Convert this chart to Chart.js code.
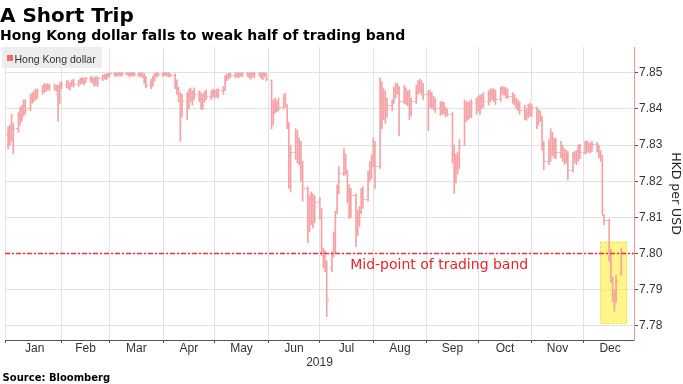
<!DOCTYPE html>
<html>
<head>
<meta charset="utf-8">
<script src="https://cdn.jsdelivr.net/npm/chart.js@4.4.1/dist/chart.umd.min.js"></script>
<style>
  html, body { margin: 0; padding: 0; background: #fff; }
  #wrap { position: relative; width: 683px; height: 384px; overflow: hidden; }
  #chart { position: absolute; left: 0; top: 0; }
  .title { position: absolute; left: 0; top: 4.6px; font: bold 20px/20px "DejaVu Sans"; color: #000; white-space: nowrap; }
  .subtitle { position: absolute; left: 0; top: 27.5px; font: bold 14px/14px "DejaVu Sans"; color: #000; white-space: nowrap; }
  .legend { position: absolute; left: 2px; top: 47px; width: 100px; height: 21px; background: rgba(236, 236, 236, 0.92); }
  .legend .sw { position: absolute; left: 4.7px; top: 8px; width: 6px; height: 6px; background: #f26d6d; }
  .legend .lbl { position: absolute; left: 12.5px; top: 6.8px; font: 10.5px/10.5px "Liberation Sans"; color: #333; white-space: nowrap; }
  .source { position: absolute; left: 2.6px; top: 373px; font: bold 10px/10px "DejaVu Sans"; color: #000; white-space: nowrap; }
</style>
</head>
<body>
<div id="wrap">
  <canvas id="chart" width="683" height="384" style="width:683px;height:384px"></canvas>
  <div class="title">A Short Trip</div>
  <div class="subtitle">Hong Kong dollar falls to weak half of trading band</div>
  <div class="legend"><span class="sw"></span><span class="lbl">Hong Kong dollar</span></div>
  <div class="source">Source: Bloomberg</div>
</div>
<script>
'use strict';

// trading days, as day of year 2019 (1 = Jan 1), one row per month
var days = [
  1,2,3,4,7,8,9,10,11,14,15,16,17,18,21,22,23,24,25,28,29,30,31,
  32,35,36,37,38,39,42,43,44,45,46,49,50,51,52,53,56,57,58,59,
  60,63,64,65,66,67,70,71,72,73,74,77,78,79,80,81,84,85,86,87,88,
  91,92,93,94,95,98,99,100,101,102,105,106,107,108,109,112,113,114,115,116,119,120,
  121,122,123,126,127,128,129,130,133,134,135,136,137,140,141,142,143,144,147,148,149,150,151,
  154,155,156,157,158,161,162,163,164,165,168,169,170,171,172,175,176,177,178,179,
  182,183,184,185,186,189,190,191,192,193,196,197,198,199,200,203,204,205,206,207,210,211,212,
  213,214,217,218,219,220,221,224,225,226,227,228,231,232,233,234,235,238,239,240,241,242,
  245,246,247,248,249,252,253,254,255,256,259,260,261,262,263,266,267,268,269,270,273,
  274,275,276,277,280,281,282,283,284,287,288,289,290,291,294,295,296,297,298,301,302,303,304,
  305,308,309,310,311,312,315,316,317,318,319,322,323,324,325,326,329,330,331,332,333,
  336,337,338,339,340,343,344,345,346,347,350,351,352,353,354,357
];

var open = [
  7.8330,7.8320,7.8330,7.8320,7.8345,7.8380,7.8370,7.8400,7.8410,7.8400,7.8430,7.8425,7.8440,7.8435,7.8450,7.8460,7.8455,7.8462,7.8458,7.8462,7.8456,7.8440,7.8420,
  7.8465,7.8468,7.8470,7.8462,7.8468,7.8474,7.8466,7.8476,7.8480,7.8474,7.8478,7.8484,7.8480,7.8476,7.8482,7.8470,7.8485,7.8490,7.8488,7.8493,
  7.8496,7.8497,7.8495,7.8498,7.8497,7.8496,7.8499,7.8497,7.8495,7.8498,7.8497,7.8494,7.8496,7.8495,7.8490,7.8478,7.8465,7.8470,7.8485,7.8494,7.8497,
  7.8496,7.8498,7.8496,7.8497,7.8494,7.8492,7.8470,7.8455,7.8440,7.8395,7.8420,7.8430,7.8440,7.8430,7.8445,7.8440,7.8430,7.8410,7.8432,7.8440,7.8435,7.8445,
  7.8440,7.8445,7.8438,7.8450,7.8455,7.8485,7.8490,7.8494,7.8492,7.8496,7.8493,7.8497,7.8495,7.8498,7.8496,7.8490,7.8497,7.8494,7.8498,7.8496,7.8492,7.8497,7.8494,
  7.8478,7.8390,7.8410,7.8400,7.8415,7.8405,7.8430,7.8410,7.8360,7.8250,7.8280,7.8320,7.8275,7.8300,7.8215,7.8180,7.8100,7.8130,7.8150,7.8090,
  7.8140,7.8110,7.8005,7.7985,7.7975,7.7960,7.7995,7.8040,7.8115,7.8170,7.8220,7.8260,7.8225,7.8150,7.8120,7.8160,7.8060,7.8100,7.8115,7.8165,7.8150,7.8210,7.8240,
  7.8260,7.8300,7.8240,7.8460,7.8380,7.8430,7.8385,7.8410,7.8420,7.8450,7.8465,7.8455,7.8420,7.8445,7.8430,7.8440,7.8390,7.8420,7.8455,7.8470,7.8460,7.8450,
  7.8440,7.8410,7.8440,7.8410,7.8420,7.8400,7.8395,7.8405,7.8395,7.8390,7.8385,7.8270,7.8200,7.8240,7.8260,7.8300,7.8410,7.8380,7.8405,7.8390,7.8415,
  7.8420,7.8410,7.8425,7.8430,7.8420,7.8440,7.8445,7.8435,7.8450,7.8425,7.8455,7.8450,7.8445,7.8440,7.8435,7.8425,7.8420,7.8410,7.8400,7.8395,7.8380,7.8390,7.8405,
  7.8395,7.8405,7.8360,7.8385,7.8375,7.8300,7.8255,7.8290,7.8320,7.8290,7.8305,7.8280,7.8295,7.8270,7.8260,7.8275,7.8230,7.8265,7.8270,7.8260,7.8290,
  7.8280,7.8300,7.8295,7.8298,7.8290,7.8302,7.8295,7.8275,7.8270,7.8105,7.8090,7.7995,7.7935,7.7880,7.7870,7.7945
];

var high = [
  7.8350,7.8355,7.8385,7.8360,7.8390,7.8405,7.8410,7.8425,7.8425,7.8440,7.8445,7.8450,7.8455,7.8455,7.8465,7.8470,7.8468,7.8470,7.8468,7.8468,7.8466,7.8465,7.8472,
  7.8475,7.8478,7.8478,7.8472,7.8480,7.8482,7.8480,7.8485,7.8487,7.8484,7.8488,7.8490,7.8488,7.8486,7.8490,7.8488,7.8494,7.8496,7.8497,7.8498,
  7.8500,7.8500,7.8500,7.8500,7.8500,7.8500,7.8500,7.8500,7.8500,7.8500,7.8500,7.8500,7.8500,7.8500,7.8498,7.8490,7.8482,7.8490,7.8498,7.8500,7.8500,
  7.8500,7.8500,7.8500,7.8500,7.8499,7.8497,7.8480,7.8460,7.8445,7.8440,7.8445,7.8455,7.8458,7.8450,7.8458,7.8450,7.8445,7.8440,7.8448,7.8452,7.8450,7.8455,
  7.8452,7.8455,7.8455,7.8462,7.8492,7.8497,7.8498,7.8500,7.8500,7.8500,7.8500,7.8500,7.8500,7.8500,7.8500,7.8500,7.8500,7.8500,7.8500,7.8500,7.8500,7.8500,7.8498,
  7.8480,7.8425,7.8430,7.8422,7.8430,7.8440,7.8443,7.8412,7.8362,7.8300,7.8345,7.8340,7.8320,7.8310,7.8255,7.8185,7.8160,7.8170,7.8165,7.8160,
  7.8155,7.8125,7.8015,7.8008,7.7980,7.8005,7.8060,7.8116,7.8190,7.8240,7.8290,7.8275,7.8230,7.8190,7.8180,7.8165,7.8120,7.8130,7.8180,7.8185,7.8227,7.8255,7.8273,
  7.8318,7.8310,7.8485,7.8475,7.8456,7.8450,7.8430,7.8425,7.8460,7.8472,7.8470,7.8462,7.8465,7.8458,7.8450,7.8452,7.8430,7.8465,7.8478,7.8482,7.8478,7.8470,
  7.8450,7.8452,7.8445,7.8435,7.8430,7.8420,7.8420,7.8418,7.8405,7.8400,7.8390,7.8300,7.8275,7.8280,7.8315,7.8425,7.8420,7.8418,7.8422,7.8425,7.8430,
  7.8435,7.8438,7.8440,7.8445,7.8450,7.8455,7.8456,7.8455,7.8452,7.8460,7.8462,7.8460,7.8458,7.8455,7.8445,7.8440,7.8430,7.8425,7.8420,7.8410,7.8400,7.8412,7.8415,
  7.8412,7.8405,7.8398,7.8395,7.8380,7.8310,7.8315,7.8345,7.8335,7.8320,7.8318,7.8310,7.8300,7.8290,7.8285,7.8282,7.8280,7.8282,7.8285,7.8300,7.8302,
  7.8310,7.8312,7.8308,7.8305,7.8310,7.8308,7.8300,7.8285,7.8272,7.8108,7.8095,7.8012,7.7935,7.7900,7.7940,7.8015
];

var low = [
  7.8290,7.8300,7.8310,7.8276,7.8335,7.8355,7.8365,7.8380,7.8385,7.8395,7.8415,7.8420,7.8425,7.8428,7.8440,7.8445,7.8448,7.8452,7.8450,7.8452,7.8448,7.8365,7.8415,
  7.8455,7.8458,7.8455,7.8452,7.8462,7.8460,7.8462,7.8468,7.8470,7.8466,7.8472,7.8474,7.8470,7.8462,7.8465,7.8462,7.8478,7.8482,7.8480,7.8486,
  7.8490,7.8490,7.8489,7.8492,7.8490,7.8491,7.8493,7.8490,7.8489,7.8492,7.8490,7.8488,7.8490,7.8486,7.8470,7.8458,7.8456,7.8462,7.8476,7.8488,7.8490,
  7.8490,7.8492,7.8490,7.8489,7.8488,7.8456,7.8440,7.8420,7.8310,7.8378,7.8370,7.8400,7.8420,7.8410,7.8425,7.8420,7.8400,7.8398,7.8418,7.8425,7.8425,7.8432,
  7.8430,7.8432,7.8430,7.8440,7.8450,7.8478,7.8482,7.8486,7.8485,7.8488,7.8486,7.8490,7.8488,7.8490,7.8486,7.8482,7.8488,7.8485,7.8490,7.8484,7.8480,7.8488,7.8478,
  7.8345,7.8355,7.8388,7.8392,7.8395,7.8400,7.8405,7.8345,7.8180,7.8170,7.8260,7.8250,7.8245,7.8200,7.8145,7.8030,7.8060,7.8080,7.8070,7.8085,
  7.8095,7.7995,7.7960,7.7950,7.7826,7.7950,7.7990,7.8000,7.8110,7.8165,7.8215,7.8218,7.8140,7.8097,7.8100,7.8019,7.8050,7.8075,7.8110,7.8125,7.8145,7.8200,7.8207,
  7.8240,7.8180,7.8235,7.8345,7.8370,7.8360,7.8378,7.8395,7.8415,7.8430,7.8440,7.8325,7.8415,7.8412,7.8408,7.8370,7.8380,7.8415,7.8440,7.8445,7.8438,7.8425,
  7.8340,7.8405,7.8400,7.8398,7.8390,7.8382,7.8385,7.8385,7.8378,7.8380,7.8250,7.8166,7.8195,7.8220,7.8235,7.8300,7.8365,7.8370,7.8375,7.8375,7.8385,
  7.8395,7.8385,7.8400,7.8405,7.8410,7.8420,7.8425,7.8420,7.8412,7.8420,7.8440,7.8438,7.8430,7.8428,7.8415,7.8410,7.8400,7.8395,7.8385,7.8370,7.8368,7.8375,7.8380,
  7.8378,7.8345,7.8355,7.8365,7.8285,7.8232,7.8246,7.8255,7.8270,7.8265,7.8262,7.8265,7.8255,7.8246,7.8250,7.8204,7.8225,7.8250,7.8246,7.8255,7.8262,
  7.8275,7.8278,7.8280,7.8278,7.8282,7.8280,7.8265,7.8255,7.8108,7.8080,7.7978,7.7920,7.7867,7.7840,7.7865,7.7940
];

var close = [
  7.8320,7.8330,7.8320,7.8345,7.8380,7.8370,7.8400,7.8410,7.8395,7.8430,7.8425,7.8440,7.8435,7.8450,7.8460,7.8455,7.8462,7.8458,7.8463,7.8456,7.8460,7.8420,7.8465,
  7.8468,7.8470,7.8462,7.8468,7.8474,7.8466,7.8476,7.8480,7.8474,7.8478,7.8484,7.8480,7.8476,7.8482,7.8470,7.8485,7.8490,7.8488,7.8493,7.8495,
  7.8498,7.8495,7.8498,7.8497,7.8496,7.8499,7.8497,7.8495,7.8498,7.8497,7.8494,7.8496,7.8495,7.8490,7.8478,7.8465,7.8470,7.8485,7.8494,7.8497,7.8496,
  7.8498,7.8496,7.8497,7.8494,7.8492,7.8470,7.8455,7.8440,7.8395,7.8420,7.8430,7.8440,7.8430,7.8445,7.8440,7.8430,7.8410,7.8432,7.8440,7.8435,7.8445,7.8440,
  7.8445,7.8438,7.8450,7.8455,7.8485,7.8490,7.8494,7.8492,7.8496,7.8493,7.8497,7.8495,7.8498,7.8496,7.8490,7.8497,7.8494,7.8498,7.8496,7.8492,7.8497,7.8494,7.8482,
  7.8390,7.8410,7.8400,7.8415,7.8405,7.8430,7.8410,7.8360,7.8250,7.8280,7.8320,7.8275,7.8300,7.8215,7.8180,7.8100,7.8130,7.8150,7.8090,7.8140,
  7.8110,7.8005,7.7985,7.7975,7.7870,7.7995,7.8040,7.8100,7.8170,7.8220,7.8260,7.8225,7.8150,7.8120,7.8160,7.8060,7.8100,7.8115,7.8165,7.8150,7.8210,7.8240,7.8260,
  7.8300,7.8240,7.8460,7.8380,7.8430,7.8385,7.8410,7.8420,7.8450,7.8465,7.8455,7.8420,7.8445,7.8430,7.8440,7.8390,7.8420,7.8455,7.8470,7.8460,7.8450,7.8440,
  7.8410,7.8440,7.8410,7.8420,7.8400,7.8395,7.8405,7.8395,7.8390,7.8385,7.8270,7.8200,7.8240,7.8260,7.8300,7.8410,7.8380,7.8405,7.8390,7.8415,7.8420,
  7.8410,7.8425,7.8430,7.8420,7.8440,7.8445,7.8435,7.8450,7.8425,7.8455,7.8450,7.8445,7.8440,7.8435,7.8425,7.8420,7.8410,7.8400,7.8395,7.8380,7.8390,7.8405,7.8395,
  7.8405,7.8360,7.8385,7.8375,7.8300,7.8255,7.8290,7.8320,7.8290,7.8305,7.8280,7.8295,7.8270,7.8260,7.8275,7.8230,7.8265,7.8270,7.8260,7.8290,7.8280,
  7.8300,7.8295,7.8298,7.8290,7.8302,7.8295,7.8275,7.8270,7.8120,7.8090,7.7995,7.7935,7.7880,7.7860,7.7925,7.8005
];

var monthNames = ['Jan','Feb','Mar','Apr','May','Jun','Jul','Aug','Sep','Oct','Nov','Dec'];
var monthStarts = [1,32,60,91,121,152,182,213,244,274,305,335,366];
var yTicks = [7.78, 7.79, 7.80, 7.81, 7.82, 7.83, 7.84, 7.85];
var midPoint = 7.80;
var highlightDays = [344.8, 360.3];     // yellow box, December
var highlightRange = [7.7807, 7.8033];

// axis extents
var X_MIN = -0.8, X_MAX = 364.4;
var Y_MIN = 7.7761, Y_MAX = 7.8571;
var BAR_COLOR = '#f4a2a5';

// boundaries get grid lines, mid-months get the names
var boundaryTicks = [X_MIN].concat(monthStarts.slice(1, 12));
var labelAt = {};
var midTicks = monthNames.map(function (m, i) {
  var v = (monthStarts[i] + monthStarts[i + 1]) / 2;
  labelAt[v] = m;
  return v;
});
var xTickValues = boundaryTicks.concat(midTicks).sort(function (a, b) { return a - b; });
var isBoundary = function (v) { return boundaryTicks.indexOf(v) !== -1; };

// open tick on the left, close tick on the right
var tickMark = function (side) {
  var c = document.createElement('canvas');
  c.width = 4; c.height = 1;
  var g = c.getContext('2d');
  g.fillStyle = BAR_COLOR;
  g.fillRect(side === 'left' ? 0 : 2.5, 0, 1.5, 1);
  return c;
};

var overlay = {
  id: 'overlay',
  beforeDatasetsDraw: function (chart) {
    var ctx = chart.ctx, x = chart.scales.x, y = chart.scales.y;
    var x0 = x.getPixelForValue(highlightDays[0]), x1 = x.getPixelForValue(highlightDays[1]);
    var y0 = y.getPixelForValue(highlightRange[1]), y1 = y.getPixelForValue(highlightRange[0]);
    ctx.save();
    ctx.fillStyle = 'rgba(255, 238, 50, 0.58)';
    ctx.fillRect(x0, y0, x1 - x0, y1 - y0);
    ctx.strokeStyle = '#f4d83a';
    ctx.lineWidth = 1;
    ctx.setLineDash([2, 2]);
    ctx.strokeRect(Math.round(x0) + 0.5, Math.round(y0) + 0.5, Math.round(x1 - x0) - 1, Math.round(y1 - y0) - 1);
    ctx.restore();
  },
  afterDatasetsDraw: function (chart) {
    var ctx = chart.ctx, x = chart.scales.x, y = chart.scales.y;
    ctx.save();
    ctx.font = '14px "DejaVu Sans"';
    ctx.fillStyle = '#e8232b';
    ctx.textBaseline = 'alphabetic';
    ctx.fillText('Mid-point of trading band', x.getPixelForValue(199.6), y.getPixelForValue(7.79577));
    ctx.restore();
  }
};

new Chart(document.getElementById('chart'), {
  type: 'bar',
  data: {
    datasets: [{
      type: 'line',
      data: [{x: X_MIN, y: midPoint}, {x: X_MAX, y: midPoint}],
      borderColor: '#f0303a',
      borderWidth: 1.5,
      borderDash: [5, 2, 2, 2],
      borderCapStyle: 'butt',
      pointRadius: 0,
      fill: false,
      order: 0
    }, {
      type: 'scatter',
      data: days.map(function (d, i) { return {x: d, y: open[i]}; }),
      pointStyle: tickMark('left'),
      pointRadius: 2,
      order: 1
    }, {
      type: 'scatter',
      data: days.map(function (d, i) { return {x: d, y: close[i]}; }),
      pointStyle: tickMark('right'),
      pointRadius: 2,
      order: 1
    }, {
      type: 'bar',
      label: 'Hong Kong dollar',
      data: days.map(function (d, i) { return {x: d, y: [low[i], high[i]]}; }),
      backgroundColor: BAR_COLOR,
      borderWidth: 0,
      barThickness: 1,
      grouped: false,
      order: 2
    }]
  },
  options: {
    responsive: false,
    animation: false,
    events: [],
    layout: { padding: { top: 47, left: 0, right: 0, bottom: 0 } },
    plugins: { legend: { display: false }, tooltip: { enabled: false } },
    scales: {
      x: {
        type: 'linear',
        position: 'bottom',
        min: X_MIN,
        max: X_MAX,
        offset: false,
        afterBuildTicks: function (s) { s.ticks = xTickValues.map(function (v) { return {value: v}; }); },
        afterFit: function (s) { s.height = 44; },
        grid: {
          offset: false,
          color: function (c) { return c.tick && isBoundary(c.tick.value) ? '#e2e2e2' : 'rgba(0,0,0,0)'; },
          tickColor: function (c) { return c.tick && isBoundary(c.tick.value) ? '#555' : 'rgba(0,0,0,0)'; },
          tickLength: 3
        },
        border: { color: '#555', width: 1 },
        ticks: {
          autoSkip: false,
          maxRotation: 0,
          minRotation: 0,
          padding: 0,
          color: '#333',
          font: { family: 'Liberation Sans', size: 12, lineHeight: 1 },
          callback: function (v) { return labelAt[v] || ''; }
        },
        title: {
          display: true,
          text: '2019',
          color: '#333',
          font: { family: 'Liberation Sans', size: 12, lineHeight: 1 },
          padding: { top: 0, bottom: 14.9 }
        }
      },
      y: {
        position: 'right',
        min: Y_MIN,
        max: Y_MAX,
        afterBuildTicks: function (s) { s.ticks = yTicks.map(function (v) { return {value: v}; }); },
        afterFit: function (s) { s.width = 49; },
        grid: { color: '#e2e2e2', tickColor: '#555', tickLength: 4 },
        border: { color: '#f29a9a', width: 1 },
        ticks: {
          padding: 1,
          color: '#333',
          font: { family: 'Liberation Sans', size: 12 },
          callback: function (v) { return Number(v).toFixed(2); }
        },
        title: {
          display: true,
          text: 'HKD per USD',
          color: '#222',
          font: { family: 'DejaVu Sans', size: 12.5, lineHeight: 1.2 },
          padding: { top: 0.5, bottom: 0 }
        }
      }
    }
  },
  plugins: [overlay]
});
</script>
</body>
</html>
